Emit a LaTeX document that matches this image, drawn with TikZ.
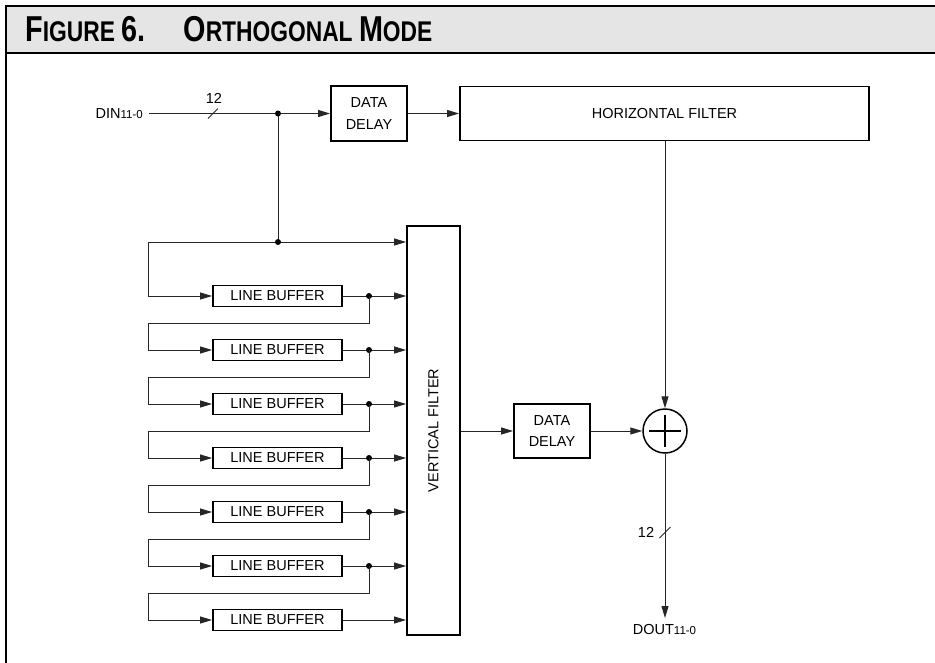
\documentclass[tikz,border=0pt]{standalone}
\usepackage{fontspec}
\setmainfont{Liberation Sans}
\newfontfamily\titlefont{Liberation Sans Bold}[FakeStretch=0.8]
\usetikzlibrary{arrows.meta}
\newcommand\FigBig{\fontsize{36}{36}\selectfont}
\newcommand\FigSm{\fontsize{28.5}{28.5}\selectfont}
\newcommand\SubSz{\fontsize{11.5}{12}\selectfont}
\tikzset{
  conn/.style={line width=1pt, draw=black!85},
  arr/.style={conn, -{Triangle[length=12pt,width=7pt]}},
  blk/.style={draw=black, line width=1.8pt, fill=white, inner sep=0pt,
    font=\fontsize{14.5}{21.5}\selectfont, align=center},
  lbuf/.style={blk, minimum width=129pt, minimum height=21pt},
  lbl/.style={inner sep=0pt, font=\fontsize{14.5}{17}\selectfont},
  jdot/.style={circle, fill=black, inner sep=0pt, minimum size=6pt},
}
\begin{document}
\begin{tikzpicture}[x=1pt,y=-1pt]
\useasboundingbox (0,0) rectangle (935,662);
% header
\fill[black!10] (6,6) rectangle (940,53);
\draw[line width=2.2pt] (940,6) -- (6,6) -- (6,665);
\draw[line width=2.2pt] (6,53) -- (940,53);
\node[anchor=base west, inner sep=0pt, font=\titlefont] (title) at (25,41.5)
  {\FigBig F\FigSm IGURE \FigBig 6.\hspace{38pt}O\FigSm RTHOGONAL \FigBig M\FigSm ODE};

% top row
\node[lbl, anchor=east] (din) at (143,113.5) {DIN{\SubSz 11-0}};
\node[blk, minimum width=76pt, minimum height=55pt] (dd1) at (369,113.5) {DATA\\DELAY};
\node[blk, minimum width=409pt, minimum height=54pt] (hf) at (664.5,113.5) {HORIZONTAL FILTER};
\coordinate (j1) at (278,113.5);
\coordinate (j2) at (278,242);
\coordinate (c0) at (148,242);
\draw[arr] ([xshift=6pt]din.east) -- (dd1.west);
\draw[arr] (dd1.east) -- (hf.west);
\draw[conn] (208,118.5) -- (218,108.5);
\node[lbl] (n12a) at (214,98) {12};

% vertical filter
\node[blk, minimum width=53pt, minimum height=409pt] (vf) at (433.5,430.5) {};
\node[lbl, rotate=90] (vft) at (vf.center) {VERTICAL FILTER};

\draw[conn] (j1) -- (j2);
\draw[arr] (c0) -- (c0 -| vf.west);
\node[jdot] (dj1) at (j1) {};
\node[jdot] (dj2) at (j2) {};

% line buffers
\foreach \i in {1,...,7}{
  \node[lbuf] (lb\i) at (277.5,{296+54*(\i-1)}) {LINE BUFFER};
  \draw[arr] (lb\i.east) -- (lb\i.east -| vf.west);
}
\draw[arr] (c0) |- (lb1.west);
\foreach \i [evaluate=\i as \j using int(\i+1)] in {1,...,6}{
  \coordinate (r\i) at (148,{296+54*(\i-1)+27});
  \node[jdot] (d\i) at (369,{296+54*(\i-1)}) {};
  \draw[arr] (d\i.center) |- (r\i) |- (lb\j.west);
}

% output path
\node[blk, minimum width=76pt, minimum height=54pt] (dd2) at (552,431) {DATA\\DELAY};
\node[circle, draw=black, line width=1.5pt, minimum size=44pt, inner sep=0pt] (sum) at (665,431) {};
\draw[line width=1.5pt] ([xshift=-16pt]sum.center) -- ([xshift=16pt]sum.center);
\draw[line width=1.5pt] ([yshift=-16pt]sum.center) -- ([yshift=16pt]sum.center);
\draw[arr] (vf.east |- dd2.west) -- (dd2.west);
\draw[arr] (dd2.east) -- (sum.west);
\draw[arr] (hf.south -| sum.center) -- (sum.north);
\coordinate (dtip) at (665,618);
\draw[arr] (sum.south) -- (dtip);
\draw[conn] (659.5,538) -- (670.5,527);
\node[lbl] (n12b) at (646,532.5) {12};
\node[lbl, anchor=north] (dout) at (664.5,624) {DOUT{\SubSz 11-0}};
\end{tikzpicture}
\end{document}
